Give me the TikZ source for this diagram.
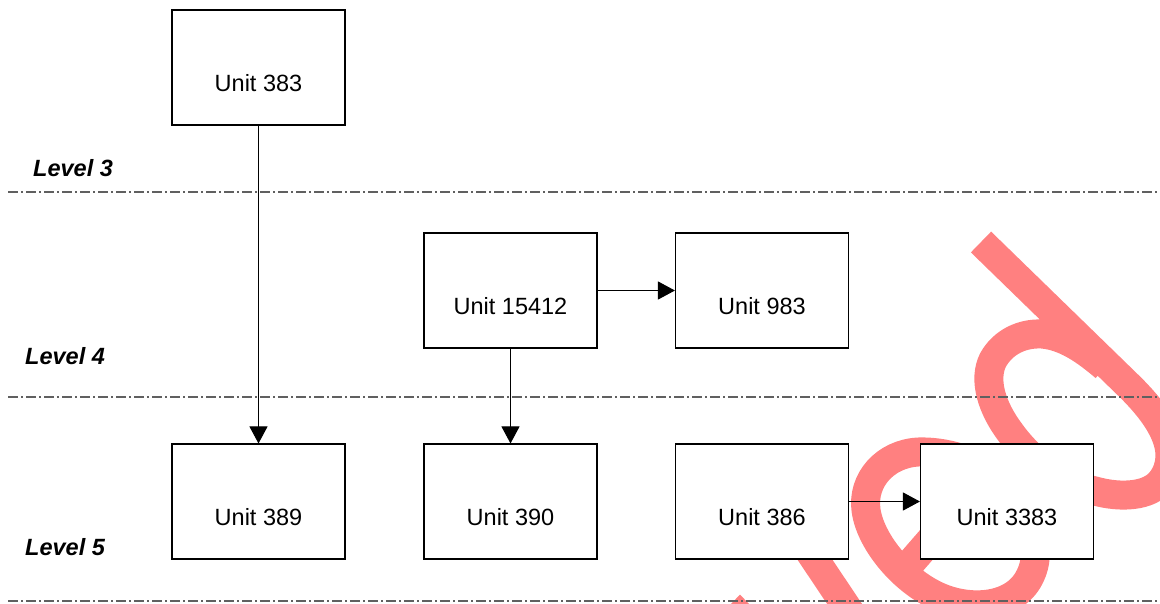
\documentclass[tikz,border=0pt]{standalone}
\usepackage{fontspec}
\setmainfont{Liberation Sans}
\usetikzlibrary{arrows.meta,calc}
\definecolor{stamp}{RGB}{255,128,128}
\definecolor{guide}{RGB}{96,96,96}
\begin{document}
\begin{tikzpicture}[x=1pt,y=-1pt,
  unitbox/.style={draw=black, line width=1.1pt, fill=white,
    minimum width=173pt, minimum height=115pt, inner sep=0pt,
    font=\fontsize{23.5}{28}\selectfont, text height=48pt, text depth=0.2pt},
  level/.style={anchor=west, inner sep=0pt,
    font=\fontsize{23.5}{28}\selectfont\bfseries\itshape},
  guideline/.style={guide, line width=1.3pt,
    dash pattern=on 10pt off 3pt on 2pt off 3pt},
  link/.style={draw=black, line width=1pt, -{Triangle[length=17pt,width=18pt]}},
  stroke/.style={stamp, line width=29pt, line cap=butt, line join=round}]

\useasboundingbox (0,0) rectangle (1160,603);

% hand-drawn stamp behind the chart
\begin{scope}
  \clip (0,0) rectangle (1160,603);
  \draw[stroke] (981,242) -- (1128,385)
    .. controls (1162,418) and (1182,452) .. (1162,480)
    .. controls (1150,497) and (1120,498) .. (1095,491)
    .. controls (1060,483) and (1030,460) .. (1010,432)
    .. controls (992,408) and (983,380) .. (993,360)
    .. controls (1003,342) and (1022,333) .. (1042,334)
    .. controls (1065,336) and (1085,350) .. (1105,367);
  \draw[stroke] (1000,478)
    .. controls (975,460) and (945,451) .. (918,452)
    .. controls (885,454) and (862,480) .. (866,510)
    .. controls (870,540) and (900,578) .. (935,595)
    .. controls (965,610) and (1010,610) .. (1028,580)
    .. controls (1042,556) and (1035,530) .. (1015,510);
  \draw[stroke] (968,497) -- (908,566);
  \draw[stroke] (785,515) -- (852,615);
  \fill[stamp] (731,604) -- (740,594.5) -- (749,604) -- cycle;
\end{scope}

% level separators
\draw[guideline] (8,192) -- (1160,192);
\draw[guideline] (8,397) -- (1160,397);
\draw[guideline] (8,601) -- (1160,601);

\node[level] (lv3) at (33,168) {Level 3};
\node[level] (lv4) at (25,356) {Level 4};
\node[level] (lv5) at (25,547) {Level 5};

% units
\node[unitbox] (u383)   at (258.5,67.5)  {Unit 383};
\node[unitbox] (u15412) at (510.5,290.5) {Unit 15412};
\node[unitbox] (u983)   at (762,290.5)   {Unit 983};
\node[unitbox] (u389)   at (258.5,501.5) {Unit 389};
\node[unitbox] (u390)   at (510.5,501.5) {Unit 390};
\node[unitbox] (u386)   at (762,501.5)   {Unit 386};
\node[unitbox] (u3383)  at (1007,501.5)  {Unit 3383};

% links
\draw[link] (u383) -- (u389);
\draw[link] (u15412) -- (u390);
\draw[link] (u15412) -- (u983);
\draw[link] (u386) -- (u3383);
\end{tikzpicture}
\end{document}
